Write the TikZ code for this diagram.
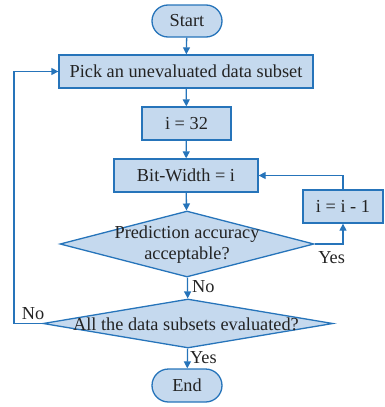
\documentclass[tikz,border=0pt]{standalone}
\usepackage{fontspec}
\setmainfont{Liberation Serif}
\usetikzlibrary{shapes.geometric,shapes.misc,arrows.meta}
\definecolor{lnblue}{RGB}{38,116,186}
\definecolor{flblue}{RGB}{197,217,238}
\definecolor{txt}{RGB}{35,35,35}
\tikzset{
  box/.style={draw=lnblue, fill=flblue, line width=1.3pt, inner sep=0pt, text=txt, font=\fontsize{18.3}{20}\selectfont},
  term/.style={box, rounded rectangle},
  dia/.style={draw=lnblue, fill=flblue, line width=1.3pt, diamond, inner sep=0pt},
  dtext/.style={text=txt, font=\fontsize{18.3}{20}\selectfont, align=center, inner sep=0pt},
  lbl/.style={text=txt, font=\fontsize{18.3}{20}\selectfont, inner sep=0pt},
  arr/.style={draw=lnblue, line width=1.3pt, -{Triangle[length=7pt,width=7pt]}},
  ln/.style={draw=lnblue, line width=1.3pt}
}
\begin{document}
\begin{tikzpicture}[x=1pt,y=-1pt]
\useasboundingbox (0,0) rectangle (385,407);
\node[term, minimum width=70pt, minimum height=32pt] (start) at (187,21) {Start};
\node[box, minimum width=254pt, minimum height=33pt] (pick) at (186,71.5) {Pick an unevaluated data subset};
\node[box, minimum width=89pt, minimum height=33pt] (i32) at (186.5,123.5) {i = 32};
\node[box, minimum width=144pt, minimum height=33pt] (bw) at (186,175.5) {Bit-Width = i};
\node[box, minimum width=80pt, minimum height=33pt] (dec) at (343,206.5) {i = i - 1};
\node[dia, minimum width=254pt, minimum height=66pt] (q1) at (187,244) {};
\node[dtext] (q1t) at (187,245) {Prediction accuracy\\[1pt]acceptable?};
\node[dia, minimum width=290pt, minimum height=49pt] (q2) at (188,323.5) {};
\node[dtext] (q2t) at (186,324.5) {All the data subsets evaluated?};
\node[term, minimum width=70pt, minimum height=33pt] (end) at (187,385.5) {End};

\draw[arr] (start) -- (pick);
\draw[arr] (pick) -- (i32);
\draw[arr] (i32) -- (bw);
\draw[arr] (bw) -- (q1);
\draw[arr] (q1) -- (q2) node[lbl, pos=0.45, right=4pt] (no1) {No};
\draw[arr] (q2) -- (end) node[lbl, pos=0.45, right=2pt] (yes2) {Yes};
\draw[arr] (q1.east) -| (dec.south) node[lbl, pos=0.3, below=7pt] (yes1) {Yes};
\draw[arr] (dec.north) |- (bw.east);
\coordinate (lc) at (14,323.5);
\draw[arr] (q2.west) -- (lc) |- (pick.west);
\node[lbl] (no2) at (33,314) {No};
\end{tikzpicture}
\end{document}
